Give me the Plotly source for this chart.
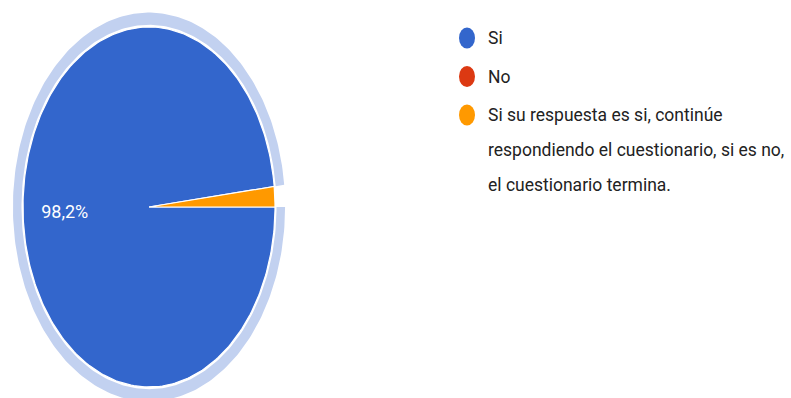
import textwrap
import numpy as np
import plotly.graph_objects as go

# Survey answers and response counts
categories = [
    "Si",
    "No",
    "Si su respuesta es si, continúe respondiendo el cuestionario, si es no, el cuestionario termina.",
]
counts = [54, 0, 1]
colors = ["#3366cc", "#dc3912", "#ff9900"]

W, H = 791, 398

# Pie geometry (pixel space, the pie is drawn as a stretched ellipse)
CX, CY = 149, 207
RX, RY = 126, 180
HALO_IN, HALO_OUT = 1.012, 1.08
LABEL_R = 0.67

# Legend geometry
LEG_DOT_X = 467
LEG_TEXT_X = 486
LEG_Y0 = 38
LEG_ITEM_STEP = 38.5
LEG_LINE_STEP = 35
LEG_WRAP = 40

FONT = "Roboto, Arial, sans-serif"


def ellipse_xy(r, ang_deg):
    a = np.deg2rad(ang_deg)
    return CX + r * RX * np.cos(a), CY - r * RY * np.sin(a)


def sector(a0, a1, r_in=0.0, r_out=1.0, n=300):
    ang = np.linspace(a0, a1, n)
    xo, yo = ellipse_xy(r_out, ang)
    if r_in <= 0:
        xs = np.concatenate([[CX], xo, [CX]])
        ys = np.concatenate([[CY], yo, [CY]])
    else:
        xi, yi = ellipse_xy(r_in, ang[::-1])
        xs = np.concatenate([xo, xi, xo[:1]])
        ys = np.concatenate([yo, yi, yo[:1]])
    return xs, ys


total = sum(counts)
fig = go.Figure()

# Slices start at 3 o'clock and run clockwise
start = 0.0
spans = []
for val in counts:
    sweep = 360.0 * val / total
    spans.append((start, start - sweep))
    start -= sweep

# highlight ring around the leading slice
a0, a1 = spans[0]
hx, hy = sector(a0, a1, HALO_IN, HALO_OUT)
fig.add_trace(go.Scatter(x=hx, y=hy, fill="toself", mode="lines",
                         line=dict(width=0), fillcolor="#c2d1f0",
                         hoverinfo="skip", showlegend=False))

for (a0, a1), val, col in zip(spans, counts, colors):
    if val == 0:
        continue
    xs, ys = sector(a0, a1)
    fig.add_trace(go.Scatter(x=xs, y=ys, fill="toself", mode="lines",
                             line=dict(color="white", width=1.2), fillcolor=col,
                             hoverinfo="skip", showlegend=False))

# percentage label on the large slice
a0, a1 = spans[0]
mid = (a0 + a1) / 2
lx, ly = ellipse_xy(LABEL_R, mid)
pct = 100.0 * counts[0] / total
fig.add_trace(go.Scatter(x=[lx], y=[ly], mode="text",
                         text=[f"{pct:.1f}".replace(".", ",") + "%"],
                         textfont=dict(family=FONT, size=18, color="white"),
                         hoverinfo="skip", showlegend=False))

# legend: coloured dots with wrapped labels
shapes = []
annotations = []
y = LEG_Y0
for cat, col in zip(categories, colors):
    shapes.append(dict(type="circle", xref="x", yref="y",
                       x0=LEG_DOT_X - 8, x1=LEG_DOT_X + 8,
                       y0=y - 10.5, y1=y + 10.5,
                       fillcolor=col, line=dict(width=0)))
    lines = textwrap.wrap(cat, LEG_WRAP)
    for k, ln in enumerate(lines):
        annotations.append(dict(x=LEG_TEXT_X, y=y + k * LEG_LINE_STEP,
                                xref="x", yref="y", text=ln, showarrow=False,
                                xanchor="left", yanchor="middle",
                                font=dict(family=FONT, size=17.5, color="#222222")))
    y += LEG_ITEM_STEP

fig.update_layout(
    width=W, height=H,
    margin=dict(l=0, r=0, t=0, b=0),
    paper_bgcolor="white", plot_bgcolor="white",
    xaxis=dict(range=[0, W], visible=False, fixedrange=True),
    yaxis=dict(range=[H, 0], visible=False, fixedrange=True),
    shapes=shapes, annotations=annotations,
    showlegend=False,
)

fig.write_html("out.html", config={"displayModeBar": False})
